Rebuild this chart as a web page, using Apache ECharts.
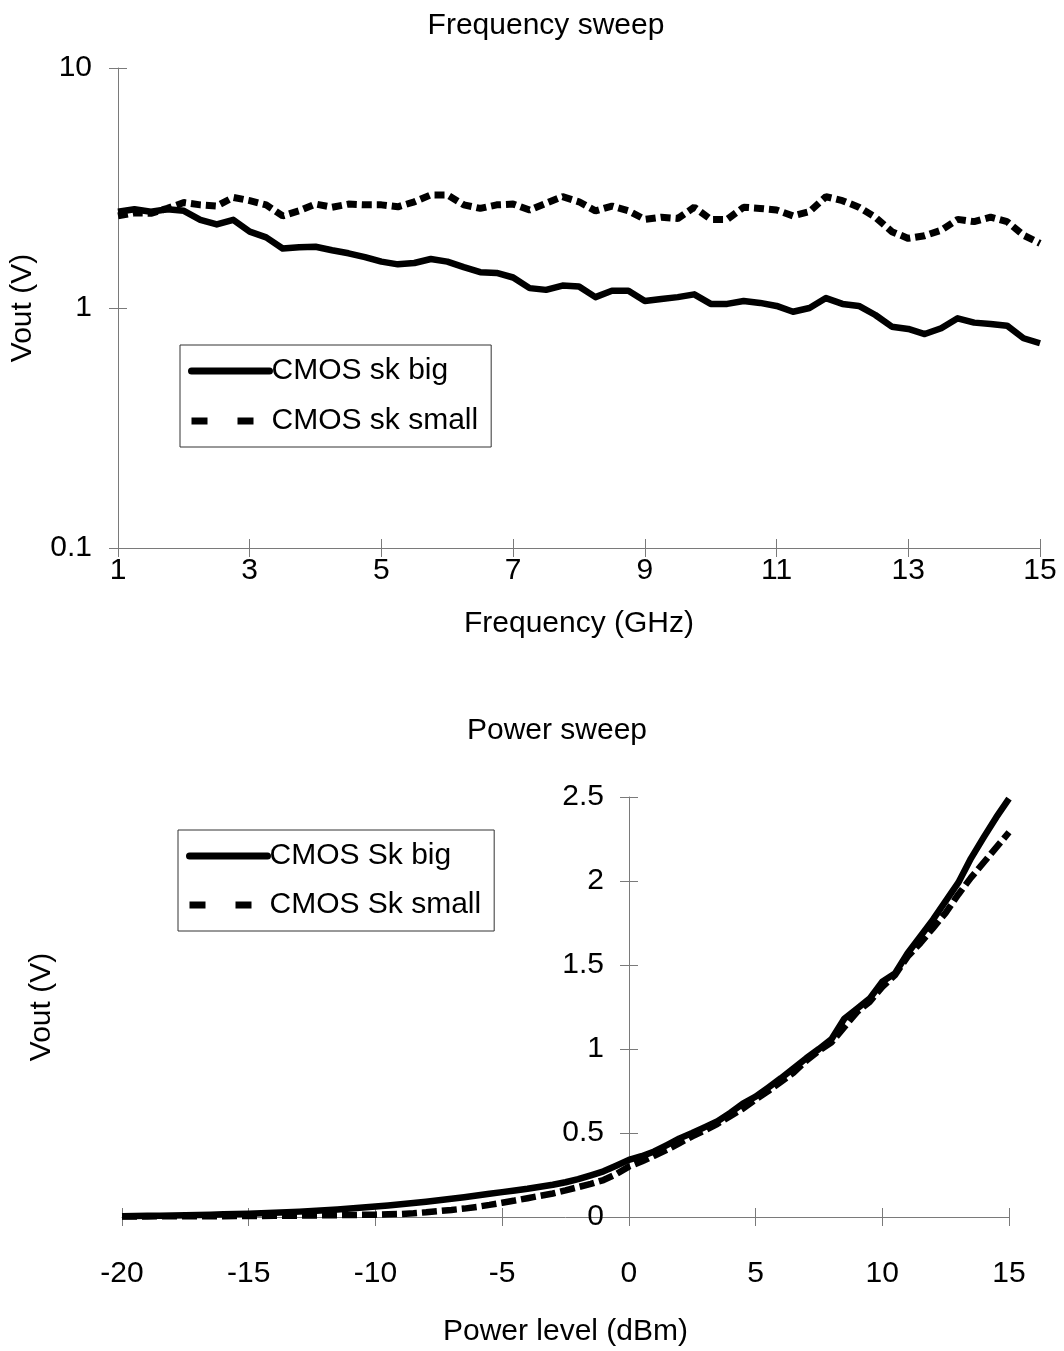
<!DOCTYPE html>
<html>
<head>
<meta charset="utf-8">
<script src="https://cdn.jsdelivr.net/npm/echarts@6/dist/echarts.min.js"></script>
<style>
  html, body { margin: 0; padding: 0; background: #fff; }
  #chart { width: 1064px; height: 1351px; }
</style>
</head>
<body>
<div id="chart"></div>
<script>
// Two stacked plots: frequency sweep (log y) and power sweep (linear y)

// ----- Data: frequency sweep -----
const freqGHz = [
  1, 1.25, 1.5, 1.75, 2, 2.25, 2.5, 2.75, 3, 3.25, 3.5, 3.75, 4, 4.25, 4.5, 4.75,
  5, 5.25, 5.5, 5.75, 6, 6.25, 6.5, 6.75, 7, 7.25, 7.5, 7.75, 8, 8.25, 8.5, 8.75,
  9, 9.25, 9.5, 9.75, 10, 10.25, 10.5, 10.75, 11, 11.25, 11.5, 11.75, 12, 12.25,
  12.5, 12.75, 13, 13.25, 13.5, 13.75, 14, 14.25, 14.5, 14.75, 15
];
const freqBig = [
  2.52, 2.58, 2.52, 2.58, 2.54, 2.33, 2.23, 2.33, 2.08, 1.97,
  1.77, 1.79, 1.80, 1.74, 1.69, 1.63, 1.56, 1.52, 1.54, 1.60,
  1.56, 1.48, 1.41, 1.40, 1.34, 1.21, 1.19, 1.24, 1.23, 1.11,
  1.18, 1.18, 1.07, 1.09, 1.11, 1.14, 1.04, 1.04, 1.07, 1.05,
  1.02, 0.965, 1.00, 1.10, 1.04, 1.02, 0.935, 0.836, 0.818, 0.779,
  0.823, 0.906, 0.869, 0.858, 0.844, 0.748, 0.713
];
const freqSmall = [
  2.42, 2.49, 2.48, 2.60, 2.75, 2.69, 2.66, 2.89, 2.80, 2.69,
  2.42, 2.54, 2.71, 2.63, 2.71, 2.69, 2.69, 2.64, 2.77, 2.96,
  2.96, 2.69, 2.60, 2.69, 2.71, 2.56, 2.73, 2.91, 2.77, 2.54,
  2.66, 2.54, 2.34, 2.39, 2.36, 2.63, 2.34, 2.34, 2.63, 2.60,
  2.56, 2.42, 2.52, 2.91, 2.80, 2.63, 2.39, 2.08, 1.95, 2.00,
  2.11, 2.34, 2.29, 2.39, 2.29, 2.01, 1.86
];

// ----- Data: power sweep -----
const powerDbm = [
  -20, -19.5, -19, -18.5, -18, -17.5, -17, -16.5, -16, -15.5, -15, -14.5, -14, -13.5,
  -13, -12.5, -12, -11.5, -11, -10.5, -10, -9.5, -9, -8.5, -8, -7.5, -7, -6.5, -6,
  -5.5, -5, -4.5, -4, -3.5, -3, -2.5, -2, -1.5, -1, -0.5, 0, 0.5, 1, 1.5, 2, 2.5,
  3, 3.5, 4, 4.5, 5, 5.5, 6, 6.5, 7, 7.5, 8, 8.5, 9, 9.5, 10, 10.5, 11, 11.5, 12,
  12.5, 13, 13.5, 14, 14.5, 15
];
const powerBig = [
  0.005, 0.006, 0.007, 0.008, 0.009, 0.011, 0.012, 0.014, 0.016, 0.018, 0.020, 0.023,
  0.026, 0.029, 0.032, 0.036, 0.040, 0.045, 0.050, 0.056, 0.062, 0.069, 0.076, 0.083,
  0.091, 0.100, 0.109, 0.118, 0.128, 0.138, 0.148, 0.158, 0.168, 0.180, 0.192, 0.207,
  0.225, 0.248, 0.272, 0.305, 0.340, 0.362, 0.390, 0.428, 0.468, 0.500, 0.535, 0.570,
  0.620, 0.675, 0.716, 0.770, 0.826, 0.885, 0.945, 1.000, 1.060, 1.180, 1.240, 1.300,
  1.400, 1.450, 1.570, 1.670, 1.770, 1.880, 1.990, 2.135, 2.260, 2.380, 2.490
];
const powerSmall = [
  0.003, 0.003, 0.003, 0.004, 0.004, 0.004, 0.005, 0.005, 0.005, 0.006, 0.006, 0.006,
  0.007, 0.007, 0.008, 0.009, 0.010, 0.011, 0.012, 0.013, 0.014, 0.016, 0.018, 0.022,
  0.028, 0.035, 0.042, 0.050, 0.060, 0.072, 0.085, 0.098, 0.112, 0.126, 0.140, 0.158,
  0.178, 0.197, 0.220, 0.255, 0.300, 0.330, 0.365, 0.400, 0.440, 0.480, 0.515, 0.555,
  0.600, 0.645, 0.700, 0.750, 0.805, 0.860, 0.930, 0.990, 1.040, 1.130, 1.220, 1.280,
  1.370, 1.440, 1.550, 1.630, 1.720, 1.810, 1.920, 2.020, 2.110, 2.200, 2.290
];

// ----- Helpers -----
const FONT = "'Liberation Sans', Arial, sans-serif";
const AXIS_GRAY = '#7a7a7a';

function pairs(xs, ys) {
  return xs.map((x, i) => [x, ys[i]]);
}

function text(size) {
  return { color: '#000', fontFamily: FONT, fontSize: size, fontWeight: 'normal' };
}

// main axis: line, outside ticks, labels
function mainAxis(extra) {
  return Object.assign({
    axisLine: { show: true, onZero: false, lineStyle: { color: AXIS_GRAY, width: 1 } },
    axisTick: { show: true, inside: false, length: 9, lineStyle: { color: AXIS_GRAY } },
    splitLine: { show: false },
    minorTick: { show: false }
  }, extra);
}

// twin axis: only the inside half of the crossing ticks
function tickTwin(extra) {
  return Object.assign({
    axisLine: { show: false, onZero: false },
    axisLabel: { show: false },
    axisTick: { show: true, inside: true, length: 9, lineStyle: { color: AXIS_GRAY } },
    splitLine: { show: false }
  }, extra);
}

// legend entries: line only, hide the default circle marker
function legendItem(name, dash) {
  const ls = { width: 7, color: '#000' };
  if (dash) ls.type = dash; else ls.cap = 'round';
  return { name, lineStyle: ls, itemStyle: { opacity: 0 } };
}

const chart = echarts.init(document.getElementById('chart'));

// bottom plot: y axis sits at x = 0 dBm, i.e. 20/35 of the 887px grid width
const BOT_LEFT = 122, BOT_WIDTH = 887;
const yBotShift = -Math.round(BOT_WIDTH * 20 / 35);

const xTop = { gridIndex: 0, type: 'value', min: 1, max: 15, interval: 2, position: 'bottom' };
const yTop = { gridIndex: 0, type: 'log', logBase: 10, min: 0.1, max: 10, position: 'left' };
const xBot = { gridIndex: 1, type: 'value', min: -20, max: 15, interval: 5, position: 'bottom' };
const yBot = { gridIndex: 1, type: 'value', min: 0, max: 2.5, interval: 0.5, position: 'left', offset: yBotShift };

chart.setOption({
  backgroundColor: '#fff',
  animation: false,
  title: [
    { text: 'Frequency sweep', left: 541, top: 6, textAlign: 'center', textStyle: text(30) },
    { text: 'Power sweep', left: 552, top: 711, textAlign: 'center', textStyle: text(30) }
  ],
  grid: [
    { left: 118, right: 24, top: 68, height: 480, outerBoundsMode: 'none', containLabel: false },
    { left: BOT_LEFT, width: BOT_WIDTH, top: 797, height: 420, outerBoundsMode: 'none', containLabel: false }
  ],
  legend: [
    {
      orient: 'vertical', left: 180, top: 345,
      padding: [11, 13, 11, 8], itemGap: 20,
      itemWidth: 78, itemHeight: 14,
      borderColor: '#333', borderWidth: 1,
      textStyle: Object.assign(text(30), { padding: [0, 0, 0, -3] }),
      data: [legendItem('CMOS sk big'), legendItem('CMOS sk small', [16, 30])]
    },
    {
      orient: 'vertical', left: 178, top: 830,
      padding: [11, 13, 11, 8], itemGap: 19,
      itemWidth: 78, itemHeight: 14,
      borderColor: '#333', borderWidth: 1,
      textStyle: Object.assign(text(30), { padding: [0, 0, 0, -3] }),
      data: [legendItem('CMOS Sk big'), legendItem('CMOS Sk small', [16, 30])]
    }
  ],
  xAxis: [
    mainAxis(Object.assign({}, xTop, {
      name: 'Frequency (GHz)', nameLocation: 'middle', nameGap: 61, nameTextStyle: text(30),
      axisLabel: Object.assign(text(30), { margin: 8 })
    })),
    tickTwin(Object.assign({}, xTop)),
    mainAxis(Object.assign({}, xBot, {
      name: 'Power level (dBm)', nameLocation: 'middle', nameGap: 100, nameTextStyle: text(30),
      axisLabel: Object.assign(text(30), { margin: 42 })
    })),
    tickTwin(Object.assign({}, xBot))
  ],
  yAxis: [
    mainAxis(Object.assign({}, yTop, {
      name: 'Vout (V)', nameLocation: 'middle', nameRotate: 90, nameGap: 80, nameTextStyle: text(30),
      axisLabel: Object.assign(text(30), { margin: 26, formatter: v => String(+v.toPrecision(3)) })
    })),
    tickTwin(Object.assign({}, yTop)),
    mainAxis(Object.assign({}, yBot, {
      name: 'Vout (V)', nameLocation: 'middle', nameRotate: 90, nameGap: 572, nameTextStyle: text(30),
      axisLabel: Object.assign(text(30), { margin: 25, formatter: v => String(v) })
    })),
    tickTwin(Object.assign({}, yBot))
  ],
  series: [
    {
      name: 'CMOS sk big', type: 'line', xAxisIndex: 0, yAxisIndex: 0,
      symbol: 'none', color: '#000',
      lineStyle: { color: '#000', width: 6.5, join: 'round' },
      data: pairs(freqGHz, freqBig)
    },
    {
      name: 'CMOS sk small', type: 'line', xAxisIndex: 0, yAxisIndex: 0,
      symbol: 'none', color: '#000',
      lineStyle: { color: '#000', width: 7, type: [10, 5] },
      data: pairs(freqGHz, freqSmall)
    },
    {
      name: 'CMOS Sk small', type: 'line', xAxisIndex: 2, yAxisIndex: 2,
      symbol: 'none', color: '#000',
      lineStyle: { color: '#000', width: 6.5, type: [15, 5] },
      data: pairs(powerDbm, powerSmall)
    },
    {
      name: 'CMOS Sk big', type: 'line', xAxisIndex: 2, yAxisIndex: 2,
      symbol: 'none', color: '#000',
      lineStyle: { color: '#000', width: 6.5, join: 'round' },
      data: pairs(powerDbm, powerBig)
    }
  ]
});

window.addEventListener('resize', () => chart.resize());
</script>
</body>
</html>
